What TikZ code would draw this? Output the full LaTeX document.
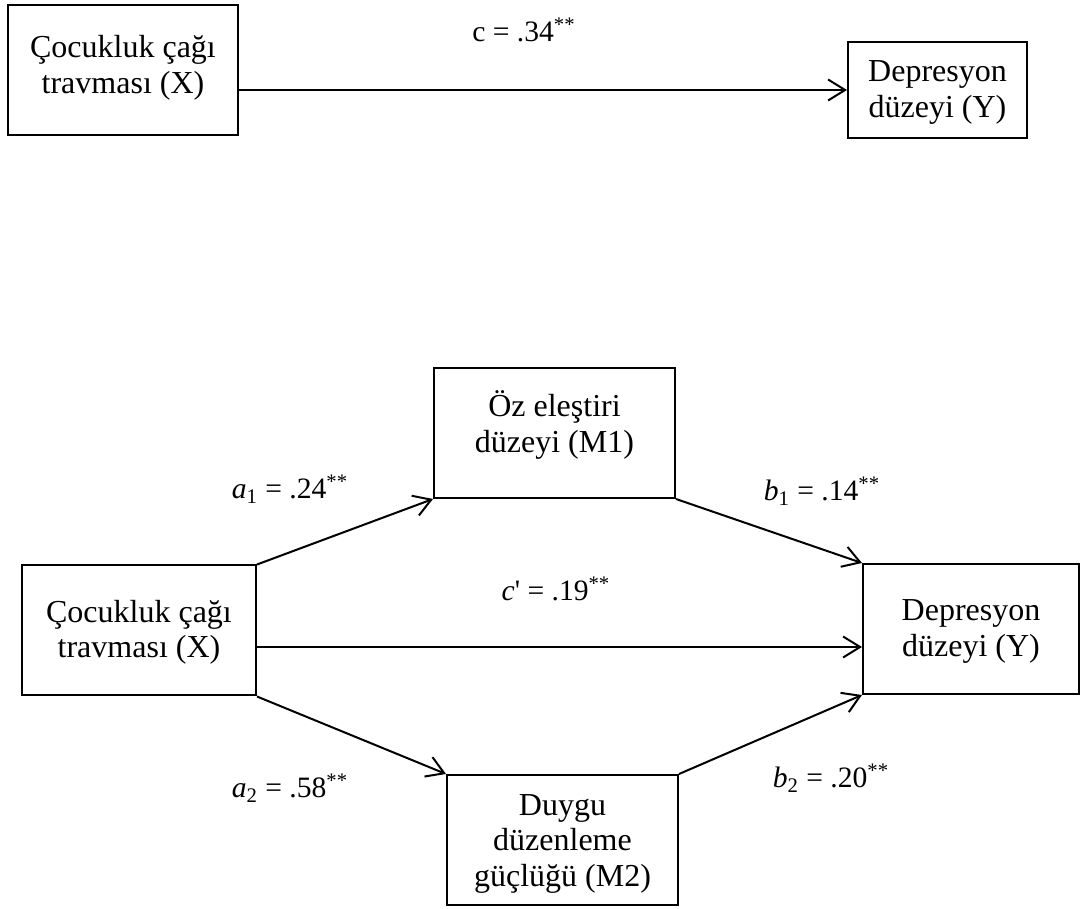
\documentclass[tikz,border=0pt]{standalone}
\usepackage{fontspec}
\setmainfont{Liberation Serif}
\usetikzlibrary{arrows.meta, calc}

\newcommand{\topstrut}{\rule{0pt}{14pt}}
\newcommand{\botstrut}[1]{\rule[-#1]{0pt}{0pt}}

\begin{document}
\begin{tikzpicture}[x=0.5pt, y=-0.5pt,
    box/.style={draw, line width=1pt, align=center, inner sep=0pt,
        minimum height=65pt, font=\fontsize{16}{17.75}\selectfont},
    effect/.style={line width=1pt,
        -{Straight Barb[length=8.5pt,width=10.5pt,line width=1pt]}},
    coef/.style={anchor=base, inner sep=0pt, font=\fontsize{14.8}{17}\selectfont}]
    \useasboundingbox (0,0) rectangle (1089,909);

    % Total effect
    \node[box, minimum width=115pt] (xtop) at (123,70)
        {\topstrut Çocukluk çağı\\travması (X)\botstrut{8.5pt}};
    \node[box, minimum width=89.5pt, minimum height=48pt] (ytop) at (937.5,90)
        {\topstrut Depresyon\\düzeyi (Y)\botstrut{4.5pt}};
    \draw[effect] (xtop.east |- ytop.west) -- (ytop.west);
    \node[coef] (ctot) at (524,42) {c = .34\textsuperscript{**}};

    % Mediation model
    \node[box, minimum width=117pt] (x) at (139,630.5)
        {\topstrut Çocukluk çağı\\travması (X)\botstrut{4.5pt}};
    \node[box, minimum width=120.5pt] (m1) at (554.5,433)
        {\topstrut Öz eleştiri\\düzeyi (M1)\botstrut{12.5pt}};
    \node[box, minimum width=115.5pt] (m2) at (562.5,840)
        {\topstrut Duygu\\düzenleme\\güçlüğü (M2)};
    \node[box, minimum width=108pt] (y) at (971,629)
        {\topstrut Depresyon\\düzeyi (Y)\botstrut{4.5pt}};

    \coordinate (ydirect) at ($(y.west)+(0,18)$);
    \draw[effect] (x.north east) -- (m1.south west);
    \draw[effect] (m1.south east) -- (y.north west);
    \draw[effect] (x.east |- ydirect) -- (ydirect);
    \draw[effect] (x.south east) -- (m2.north west);
    \draw[effect] (m2.north east) -- (y.south west);

    \node[coef] (ca1) at (290,499) {\textit{a}\textsubscript{1} = .24\textsuperscript{**}};
    \node[coef] (cb1) at (822,501) {\textit{b}\textsubscript{1} = .14\textsuperscript{**}};
    \node[coef] (cdir) at (556,601) {\textit{c}\textquotesingle{} = .19\textsuperscript{**}};
    \node[coef] (ca2) at (290,798) {\textit{a}\textsubscript{2} = .58\textsuperscript{**}};
    \node[coef] (cb2) at (831,788) {\textit{b}\textsubscript{2} = .20\textsuperscript{**}};
\end{tikzpicture}
\end{document}
